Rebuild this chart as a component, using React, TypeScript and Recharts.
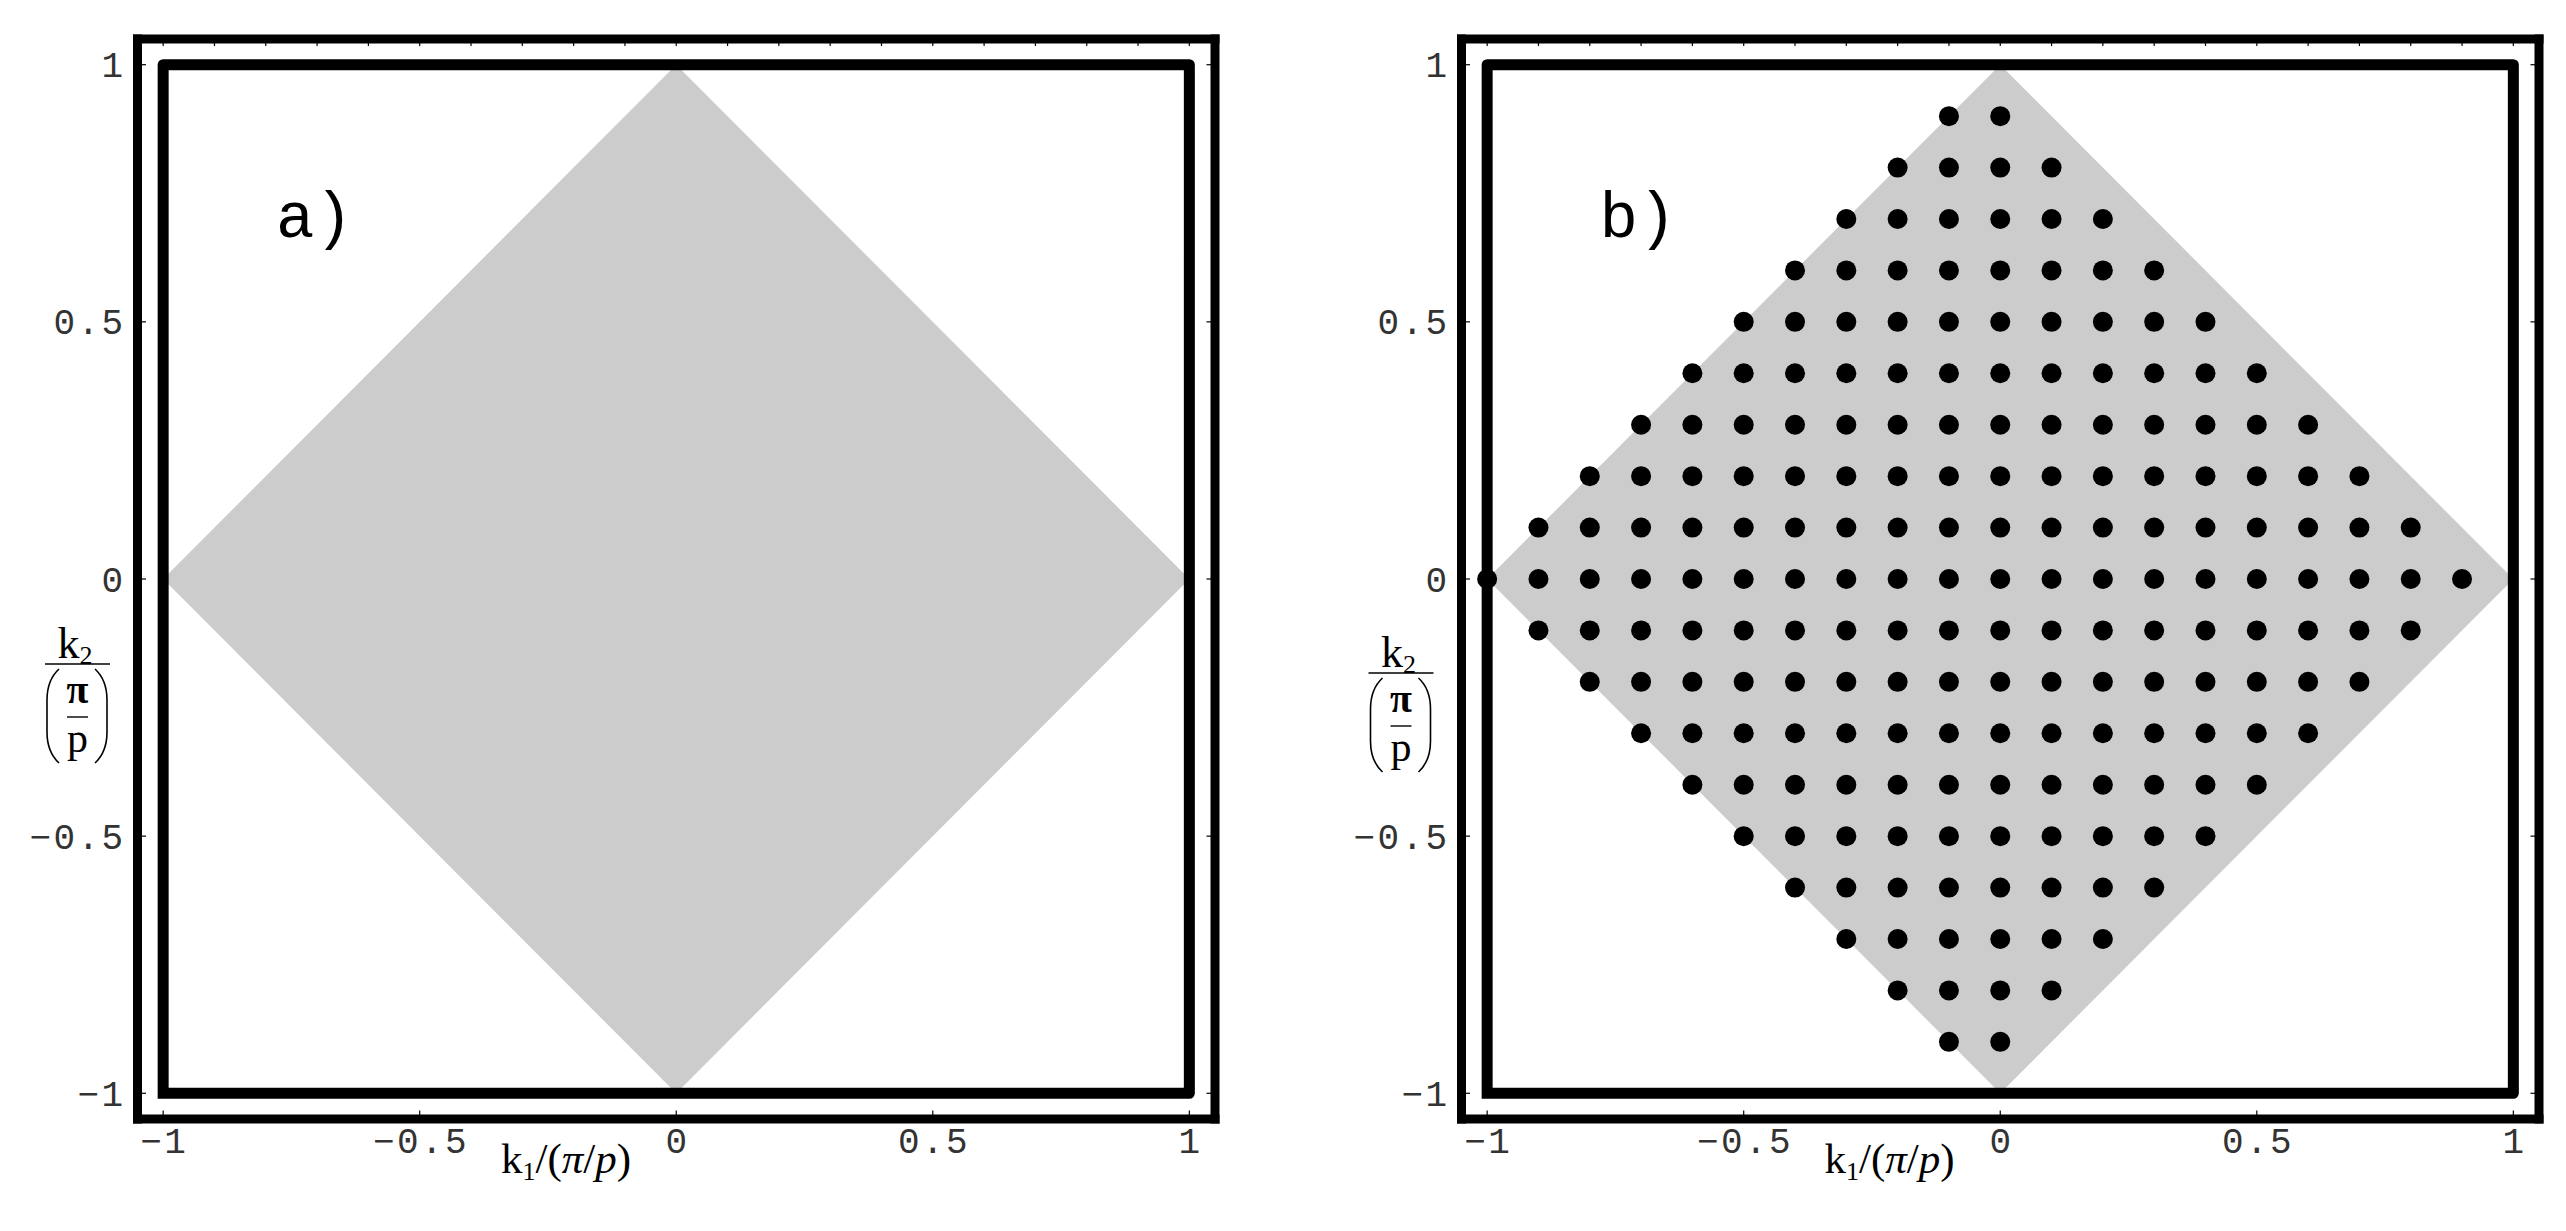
import React from 'react';
import { ComposedChart, Area, Scatter, XAxis, YAxis } from 'recharts';

const K_DOMAIN: [number, number] = [-1.05, 1.05];
const MAJOR_TICKS = [-1, -0.5, 0, 0.5, 1];
const MAJOR_LABELS = ['−1', '−0.5', '0', '0.5', '1'];
const TOP_TICKS = [-1, -0.9, -0.8, -0.7, -0.6, -0.5, -0.4, -0.3, -0.2, -0.1, 0, 0.1, 0.2, 0.3, 0.4, 0.5, 0.6, 0.7, 0.8, 0.9, 1];

// grey rhombus |k1| + |k2| <= 1, as lower / upper edge at its corners
const RHOMBUS_X = [-1, 0, 1];
const RHOMBUS_LO = [0, -1, 0];
const RHOMBUS_HI = [0, 1, 0];

// thick square k1, k2 in [-1, 1]
const SQUARE_X = [-1, 1, 1, -1, -1];
const SQUARE_Y = [-1, -1, 1, 1, -1];

// lattice points of panel b), row by row
const R9 = [-0.1, 0];
const R8 = [-0.2, -0.1, 0, 0.1];
const R7 = [-0.3, -0.2, -0.1, 0, 0.1, 0.2];
const R6 = [-0.4, -0.3, -0.2, -0.1, 0, 0.1, 0.2, 0.3];
const R5 = [-0.5, -0.4, -0.3, -0.2, -0.1, 0, 0.1, 0.2, 0.3, 0.4];
const R4 = [-0.6, -0.5, -0.4, -0.3, -0.2, -0.1, 0, 0.1, 0.2, 0.3, 0.4, 0.5];
const R3 = [-0.7, -0.6, -0.5, -0.4, -0.3, -0.2, -0.1, 0, 0.1, 0.2, 0.3, 0.4, 0.5, 0.6];
const R2 = [-0.8, -0.7, -0.6, -0.5, -0.4, -0.3, -0.2, -0.1, 0, 0.1, 0.2, 0.3, 0.4, 0.5, 0.6, 0.7];
const R1 = [-0.9, -0.8, -0.7, -0.6, -0.5, -0.4, -0.3, -0.2, -0.1, 0, 0.1, 0.2, 0.3, 0.4, 0.5, 0.6, 0.7, 0.8];
const R0 = [-1, -0.9, -0.8, -0.7, -0.6, -0.5, -0.4, -0.3, -0.2, -0.1, 0, 0.1, 0.2, 0.3, 0.4, 0.5, 0.6, 0.7, 0.8, 0.9];
const ROW_Y = [0.9, 0.8, 0.7, 0.6, 0.5, 0.4, 0.3, 0.2, 0.1, 0, -0.1, -0.2, -0.3, -0.4, -0.5, -0.6, -0.7, -0.8, -0.9];
const ROW_X = [R9, R8, R7, R6, R5, R4, R3, R2, R1, R0, R1, R2, R3, R4, R5, R6, R7, R8, R9];

const rhombus = RHOMBUS_X.map((x, i) => ({ x, lo: RHOMBUS_LO[i], hi: RHOMBUS_HI[i] }));
const square = SQUARE_X.map((x, i) => ({ x, y: SQUARE_Y[i] }));
const lattice = ROW_Y.flatMap((y, i) => ROW_X[i].map((x) => ({ x, y })));

const FRAME = { stroke: '#000', strokeWidth: 9, strokeLinecap: 'square' as const };
const MONO = '"Liberation Mono", "DejaVu Sans Mono", monospace';
const SERIF = '"Liberation Serif", "Times New Roman", serif';
const tickText = { fontFamily: MONO, fontSize: 36, letterSpacing: 2.4, fill: '#333' };

const labelOf = (v: number) => MAJOR_LABELS[MAJOR_TICKS.indexOf(v)] ?? '';

const BottomTick = (p: any) => (
  <g>
    <line x1={p.x} x2={p.x} y1={p.y} y2={p.y - 8.5} stroke="#000" strokeWidth={1.2} />
    <text x={p.x + 1.2} y={p.y + 34} textAnchor="middle" {...tickText}>{labelOf(p.payload.value)}</text>
  </g>
);
const LeftTick = (p: any) => (
  <g>
    <line x1={p.x} x2={p.x + 8.5} y1={p.y} y2={p.y} stroke="#000" strokeWidth={1.2} />
    <text x={p.x - 12} y={p.y + 12.5} textAnchor="end" {...tickText}>{labelOf(p.payload.value)}</text>
  </g>
);
const TopTick = (p: any) => (
  <line x1={p.x} x2={p.x} y1={p.y} y2={p.y + 7} stroke="#000" strokeWidth={1.2} />
);
const RightTick = (p: any) => (
  <line x1={p.x} x2={p.x - 8.5} y1={p.y} y2={p.y} stroke="#000" strokeWidth={1.2} />
);

const Dot = (p: any) => <circle cx={p.cx} cy={p.cy} r={10} fill="#000" />;

// axes are 1px thick so recharts still draws them; margins make up for it
const Panel = ({ left, dots }: { left: number; dots?: { x: number; y: number }[] }) => (
  <div style={{ position: 'absolute', left, top: 0 }}>
    <ComposedChart width={1250} height={1231} data={rhombus} margin={{ top: 38, right: 34, bottom: 111, left: 136.5 }}>
      <XAxis dataKey="x" type="number" domain={K_DOMAIN} allowDataOverflow ticks={MAJOR_TICKS} interval={0}
        height={1} tickSize={0} tickMargin={0} tickLine={false} axisLine={FRAME} tick={BottomTick} />
      <XAxis xAxisId="top" orientation="top" dataKey="x" type="number" domain={K_DOMAIN} allowDataOverflow ticks={TOP_TICKS} interval={0}
        height={1} tickSize={0} tickMargin={0} tickLine={false} axisLine={FRAME} tick={TopTick} />
      <YAxis dataKey="y" type="number" domain={K_DOMAIN} allowDataOverflow ticks={MAJOR_TICKS} interval={0}
        width={1} tickSize={0} tickMargin={0} tickLine={false} axisLine={FRAME} tick={LeftTick} />
      <YAxis yAxisId="right" orientation="right" dataKey="y" type="number" domain={K_DOMAIN} allowDataOverflow ticks={MAJOR_TICKS} interval={0}
        width={1} tickSize={0} tickMargin={0} tickLine={false} axisLine={FRAME} tick={RightTick} />
      <Area dataKey={(d: any) => [d.lo, d.hi]} type="linear" stroke="none" fill="#cccccc" fillOpacity={1} isAnimationActive={false} />
      <Scatter data={square} dataKey="y" shape={() => <g />} isAnimationActive={false}
        line={{ stroke: '#000', strokeWidth: 11, strokeLinecap: 'square', strokeLinejoin: 'round' }} />
      {dots && <Scatter data={dots} dataKey="y" shape={Dot} isAnimationActive={false} />}
    </ComposedChart>
  </div>
);

const Labels = ({ ox, tag, dy }: { ox: number; tag: string; dy: number }) => (
  <g>
    <text x={276 + ox} y={237} fontFamily={MONO} fontSize={64} fill="#000">{tag}</text>
    <text x={566 + ox} y={1173} textAnchor="middle" fontFamily={SERIF} fontSize={43} fill="#000">
      k<tspan fontSize={26} dy={7}>1</tspan><tspan dy={-7}>/(</tspan><tspan fontStyle="italic">π</tspan>/<tspan fontStyle="italic">p</tspan>)
    </text>
    <g transform={`translate(${ox}, ${dy})`}>
      <text x={75} y={658} textAnchor="middle" fontFamily={SERIF} fontSize={44} fill="#000">
        k<tspan fontSize={26} dy={6}>2</tspan>
      </text>
      <line x1={45} x2={110} y1={664} y2={664} stroke="#000" strokeWidth={1.6} />
      <path d="M 59 669 Q 47 680 47 700 L 47 732 Q 47 752 59 763" fill="none" stroke="#000" strokeWidth={1.6} />
      <path d="M 95 669 Q 107 680 107 700 L 107 732 Q 107 752 95 763" fill="none" stroke="#000" strokeWidth={1.6} />
      <text x={77.5} y={703} textAnchor="middle" fontFamily={SERIF} fontSize={40} fontWeight="bold" fill="#000">π</text>
      <line x1={67} x2={88} y1={717} y2={717} stroke="#000" strokeWidth={1.4} />
      <text x={77.5} y={752} textAnchor="middle" fontFamily={SERIF} fontSize={42} fill="#000">p</text>
    </g>
  </g>
);

export default function App() {
  return (
    <div style={{ position: 'absolute', left: 0, top: 0, width: 2566, height: 1231, background: '#fff', overflow: 'hidden' }}>
      <Panel left={0} />
      <Panel left={1323.5} dots={lattice} />
      <svg width={2566} height={1231} style={{ position: 'absolute', left: 0, top: 0, pointerEvents: 'none' }}>
        <Labels ox={0} tag="a)" dy={0} />
        <Labels ox={1323.5} tag="b)" dy={9} />
      </svg>
    </div>
  );
}
